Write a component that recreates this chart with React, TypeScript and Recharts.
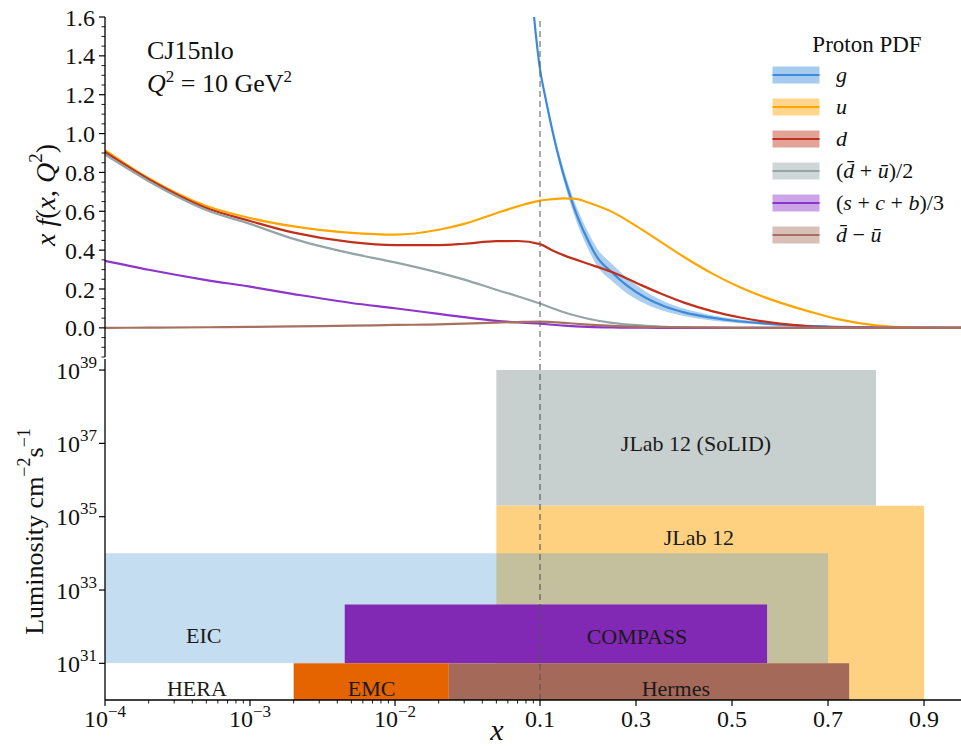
import React from 'react';
import {
  ComposedChart,
  Line,
  Area,
  XAxis,
  YAxis,
  ReferenceLine,
  ReferenceArea,
  ReferenceDot,
  Legend,
  Label,
} from 'recharts';

const SERIF = '"Liberation Serif", "DejaVu Serif", "Times New Roman", serif';
const SERIF_STYLE = { fontFamily: SERIF };

// ---------- hybrid x scale: log below 0.1, linear above ----------
const K = 480 / 145;
const T = (x: number) => (x < 0.1 ? Math.log10(x) : -1 + (x - 0.1) * K);
const X_MIN = 1e-4;
const X_MAX = 0.977;
const T_DOMAIN: [number, number] = [T(X_MIN), T(X_MAX)];

// ---------- PDF curves (top panel) ----------
const xGrid = [1e-4, 2e-4, 5e-4, 1e-3, 2e-3, 5e-3, 1e-2, 2e-2, 3e-2, 5e-2, 7e-2, 0.1, 0.125, 0.15, 0.175, 0.2, 0.25, 0.3, 0.35, 0.4, 0.46, 0.52, 0.56, 0.6, 0.66, 0.72, 0.8, 0.88, 0.977];
const uVals = [0.915, 0.77, 0.627, 0.565, 0.522, 0.489, 0.48, 0.505, 0.535, 0.59, 0.625, 0.655, 0.662, 0.666, 0.664, 0.645, 0.597, 0.525, 0.445, 0.365, 0.278, 0.205, 0.165, 0.13, 0.085, 0.045, 0.013, 0.002, 0.0];
const dVals = [0.905, 0.765, 0.617, 0.55, 0.49, 0.441, 0.426, 0.426, 0.433, 0.446, 0.447, 0.431, 0.4, 0.373, 0.351, 0.33, 0.287, 0.232, 0.178, 0.13, 0.085, 0.052, 0.035, 0.022, 0.008, 0.002, 0.0, 0.0, 0.0];
const ubarVals = [0.892, 0.755, 0.607, 0.535, 0.458, 0.383, 0.337, 0.284, 0.248, 0.196, 0.163, 0.125, 0.102, 0.08, 0.062, 0.047, 0.026, 0.014, 0.007, 0.003, 0.001, 0, 0, 0, 0, 0, 0, 0, 0];
const sVals = [0.345, 0.299, 0.246, 0.212, 0.174, 0.128, 0.101, 0.072, 0.055, 0.036, 0.028, 0.022, 0.016, 0.011, 0.008, 0.005, 0.002, 0.001, 0, 0, 0, 0, 0, 0, 0, 0, 0, 0, 0];
const dmuVals = [0.0, 0.001, 0.003, 0.005, 0.008, 0.011, 0.015, 0.018, 0.022, 0.027, 0.03, 0.032, 0.03, 0.026, 0.021, 0.017, 0.01, 0.006, 0.003, 0.002, 0.001, 0, 0, 0, 0, 0, 0, 0, 0];

const gX = [0.085, 0.091, 0.1, 0.11, 0.12, 0.13, 0.14, 0.15, 0.16, 0.17, 0.18, 0.2, 0.22, 0.25, 0.28, 0.32, 0.36, 0.4, 0.45, 0.5, 0.56, 0.62, 0.7, 0.8, 0.9, 0.977];
const gVals = [1.85, 1.6, 1.33, 1.2, 1.08, 0.97, 0.87, 0.78, 0.7, 0.625, 0.56, 0.45, 0.36, 0.285, 0.22, 0.155, 0.11, 0.08, 0.055, 0.038, 0.024, 0.014, 0.007, 0.003, 0.001, 0];
const gErr = [0.01, 0.01, 0.012, 0.015, 0.018, 0.022, 0.026, 0.03, 0.034, 0.037, 0.04, 0.043, 0.045, 0.044, 0.04, 0.032, 0.025, 0.019, 0.014, 0.01, 0.007, 0.005, 0.003, 0.002, 0.001, 0.001];

const seriesKeys = ['g', 'u', 'd', 'ubar', 's', 'dmu'];
const seriesLabels = ['g', 'u', 'd', '(d\u0304 + u\u0304)/2', '(s + c + b)/3', 'd\u0304 \u2212 u\u0304'];
const seriesColors = ['#3b8bd9', '#ffa500', '#c0301a', '#95a5a6', '#8e35cc', '#a8705f'];

const pdfRows = xGrid.map((x, i) => ({
  t: T(x),
  u: uVals[i],
  d: dVals[i],
  ubar: ubarVals[i],
  s: sVals[i],
  dmu: dmuVals[i],
}));
const gRows = gX.map((x, i) => ({
  t: T(x),
  g: gVals[i],
  band: [gVals[i] - gErr[i], gVals[i] + gErr[i]],
}));

// ---------- Luminosity regions (bottom panel) ----------
const regionNames = ['JLab 12 (SoLID)', 'JLab 12', 'EIC', 'COMPASS', 'HERA', 'EMC', 'Hermes'];
const regionXMin = [0.05, 0.05, 1e-4, 0.0045, 1e-4, 0.002, 0.0235];
const regionXMax = [0.8, 0.9, 0.7, 0.573, 0.002, 0.0235, 0.744];
const regionLumMin = [2e35, 1e30, 1e31, 1e31, 1e30, 1e30, 1e30];
const regionLumMax = [1e39, 2e35, 1e34, 4e32, 1e31, 1e31, 1e31];
const regionColors = ['#c8d0cf', '#fdd17f', '#599dd6', '#8129b5', '#ffffff', '#e56400', '#a5695a'];
const regionOpacity = [1, 1, 0.35, 1, 1, 1, 1];
const regionLabelX = [0.425, 0.431, 4.8e-4, 0.302, 4.3e-4, 6.9e-3, 0.383];
const regionLabelLum = [1e37, 2.8e34, 6e31, 5.5e31, 2.1e30, 2.1e30, 2.1e30];

// ---------- ticks ----------
const yTopMajor = [0, 0.2, 0.4, 0.6, 0.8, 1.0, 1.2, 1.4, 1.6];
const yTopAll: number[] = [];
for (let k = -3; k <= 32; k++) yTopAll.push(Math.round(k * 5) / 100);

const lumTicks = [1e31, 1e33, 1e35, 1e37, 1e39];

const xMajorVals = [1e-4, 1e-3, 1e-2, 0.1, 0.3, 0.5, 0.7, 0.9];
const xMajorLabels = ['10|\u22124', '10|\u22123', '10|\u22122', '0.1', '0.3', '0.5', '0.7', '0.9'];
const xMinorMant = [2, 3, 4, 5, 6, 7, 8, 9];
const xMinorDecades = [1e-4, 1e-3, 1e-2];

type TickDef = { t: number; label: string | null };
const xTickDefs: TickDef[] = [
  ...xMajorVals.map((v, i) => ({ t: T(v), label: xMajorLabels[i] })),
  ...xMinorDecades.flatMap((d) => xMinorMant.map((m) => ({ t: T(m * d), label: null }))),
];
const xTicks = xTickDefs.map((d) => d.t);

// ---------- tick renderers ----------
const XTick = (props: any) => {
  const { x, y, payload } = props;
  const def = xTickDefs.find((d) => Math.abs(d.t - payload.value) < 1e-9);
  const major = !!(def && def.label);
  let labelEl: React.ReactNode = null;
  if (major && def && def.label) {
    const parts = def.label.split('|');
    labelEl = (
      <text x={x} y={y + 27} textAnchor="middle" style={SERIF_STYLE} fontSize={24} fill="#111">
        {parts[0]}
        {parts[1] && (
          <tspan dy={-10} fontSize={17}>
            {parts[1]}
          </tspan>
        )}
      </text>
    );
  }
  return (
    <g>
      <line x1={x} x2={x} y1={y} y2={y + (major ? 6 : 3.5)} stroke="#000" strokeWidth={major ? 1.2 : 0.9} />
      {labelEl}
    </g>
  );
};

const YTickTop = (props: any) => {
  const { x, y, payload } = props;
  const v = payload.value as number;
  const major = yTopMajor.some((m) => Math.abs(m - v) < 1e-9);
  return (
    <g>
      <line x1={x - (major ? 6 : 3.5)} x2={x} y1={y} y2={y} stroke="#000" strokeWidth={major ? 1.2 : 0.9} />
      {major && (
        <text x={x - 10} y={y} dy="0.36em" textAnchor="end" style={SERIF_STYLE} fontSize={24} fill="#111">
          {v.toFixed(1)}
        </text>
      )}
    </g>
  );
};

const YTickLog = (props: any) => {
  const { x, y, payload } = props;
  const e = Math.round(Math.log10(payload.value));
  return (
    <g>
      <line x1={x - 6} x2={x} y1={y} y2={y} stroke="#000" strokeWidth={1.2} />
      <text x={x - 8} y={y} dy="0.36em" textAnchor="end" style={SERIF_STYLE} fontSize={24} fill="#111">
        10
        <tspan dy={-11} fontSize={17}>
          {e}
        </tspan>
      </text>
    </g>
  );
};

// ---------- labels ----------
const TopYLabel = (props: any) => {
  const vb = props.viewBox || { x: 0, y: 17, width: 105, height: 340 };
  const cx = vb.x + 45;
  const cy = vb.y + vb.height / 2 + 8;
  return (
    <text
      x={cx}
      y={cy}
      transform={`rotate(-90, ${cx}, ${cy})`}
      textAnchor="middle"
      dominantBaseline="central"
      style={SERIF_STYLE}
      fontSize={28}
      fill="#111"
    >
      <tspan fontStyle="italic">x f</tspan>(<tspan fontStyle="italic">x</tspan>, <tspan fontStyle="italic">Q</tspan>
      <tspan dy={-10} fontSize={19}>2</tspan>
      <tspan dy={10}>)</tspan>
    </text>
  );
};

const BottomYLabel = (props: any) => {
  const vb = props.viewBox || { x: 0, y: 19, width: 105, height: 341 };
  const cx = vb.x + 34;
  const cy = vb.y + vb.height / 2 + 2;
  return (
    <text
      x={cx}
      y={cy}
      transform={`rotate(-90, ${cx}, ${cy})`}
      textAnchor="middle"
      dominantBaseline="central"
      style={SERIF_STYLE}
      fontSize={26}
      fill="#111"
    >
      Luminosity cm
      <tspan dy={-10} fontSize={18}>{'\u22122'}</tspan>
      <tspan dy={10}>s</tspan>
      <tspan dy={-10} fontSize={18}>{'\u22121'}</tspan>
    </text>
  );
};

const XAxisLabel = (props: any) => {
  const vb = props.viewBox || { x: 105, y: 360, width: 856, height: 46 };
  return (
    <text x={vb.x + 392} y={vb.y + 40} textAnchor="middle" style={SERIF_STYLE} fontSize={30} fontStyle="italic" fill="#111">
      x
    </text>
  );
};

const RegionLabel = (props: any) => {
  const vb = props.viewBox || {};
  const cx = vb.cx !== undefined ? vb.cx : (vb.x || 0) + (vb.width || 0) / 2;
  const cy = vb.cy !== undefined ? vb.cy : (vb.y || 0) + (vb.height || 0) / 2;
  return (
    <text x={cx} y={cy} dy="0.35em" textAnchor="middle" style={SERIF_STYLE} fontSize={22} fill="#1a1a1a">
      {props.text}
    </text>
  );
};

const MathLabel = ({ s }: { s: string }) => {
  const parts = s.split(/([a-z]\u0304?)/);
  return (
    <span>
      {parts.map((p, i) =>
        /^[a-z]/.test(p) ? (
          <i key={i}>{p}</i>
        ) : (
          <span key={i}>{p}</span>
        ),
      )}
    </span>
  );
};

const PdfLegend = () => (
  <div style={{ fontFamily: SERIF, color: '#111', width: 190 }}>
    <div style={{ fontSize: 23, height: 28, lineHeight: '28px', textAlign: 'center' }}>Proton PDF</div>
    {seriesKeys.map((k, i) => (
      <div key={k} style={{ display: 'flex', alignItems: 'center', height: 32 }}>
        <svg width={48} height={18} style={{ display: 'block' }}>
          <rect x={0.5} y={0.5} width={47} height={17} fill={seriesColors[i]} fillOpacity={0.45} />
          <line x1={0.5} x2={47.5} y1={9} y2={9} stroke={seriesColors[i]} strokeWidth={2.2} />
        </svg>
        <span style={{ marginLeft: 16, fontSize: 22, whiteSpace: 'nowrap' }}>
          <MathLabel s={seriesLabels[i]} />
        </span>
      </div>
    ))}
  </div>
);

const AXIS_LINE = { stroke: '#000', strokeWidth: 1.3 };

export default function App() {
  return (
    <div style={{ position: 'absolute', left: 0, top: 0, width: 961, height: 746, background: '#fff', overflow: 'hidden' }}>
      {/* Top panel */}
      <div style={{ position: 'absolute', left: 0, top: 0 }}>
        <ComposedChart width={961} height={360} data={pdfRows} margin={{ top: 17, right: 0, bottom: 3, left: 0 }}>
          <XAxis
            type="number"
            dataKey="t"
            domain={T_DOMAIN}
            allowDataOverflow
            height={0}
            tick={false}
            tickLine={false}
            axisLine={AXIS_LINE}
          />
          <XAxis
            xAxisId="top"
            orientation="top"
            type="number"
            dataKey="t"
            domain={T_DOMAIN}
            allowDataOverflow
            height={0}
            tick={false}
            tickLine={false}
            axisLine={AXIS_LINE}
          />
          <YAxis
            type="number"
            domain={[-0.15, 1.6]}
            allowDataOverflow
            ticks={yTopAll}
            interval={0}
            width={105}
            tick={<YTickTop />}
            tickLine={false}
            tickSize={0}
            tickMargin={0}
            axisLine={AXIS_LINE}
          >
            <Label content={<TopYLabel />} />
          </YAxis>
          <Legend
            layout="vertical"
            align="center"
            verticalAlign="middle"
            content={<PdfLegend />}
            wrapperStyle={{ left: 772, top: 31, width: 190, height: 'auto', bottom: 'auto', right: 'auto' }}
          />
          <Area
            data={gRows}
            dataKey="band"
            type="monotone"
            fill={seriesColors[0]}
            fillOpacity={0.42}
            stroke="none"
            isAnimationActive={false}
            dot={false}
            activeDot={false}
          />
          <Line data={gRows} dataKey="g" type="monotone" stroke={seriesColors[0]} strokeWidth={2.2} dot={false} activeDot={false} isAnimationActive={false} />
          {seriesKeys.slice(1).map((k, i) => (
            <Line
              key={k}
              dataKey={k}
              type="monotone"
              stroke={seriesColors[i + 1]}
              strokeWidth={2.2}
              dot={false}
              activeDot={false}
              isAnimationActive={false}
            />
          ))}
          <ReferenceLine x={T(0.1)} stroke="#666" strokeWidth={1.1} strokeDasharray="6 4" />
        </ComposedChart>
      </div>

      {/* Bottom panel */}
      <div style={{ position: 'absolute', left: 0, top: 340 }}>
        <ComposedChart width={961} height={406} data={pdfRows} margin={{ top: 19, right: 0, bottom: 0, left: 0 }}>
          <XAxis
            type="number"
            dataKey="t"
            domain={T_DOMAIN}
            allowDataOverflow
            ticks={xTicks}
            interval={0}
            height={46}
            tick={<XTick />}
            tickLine={false}
            tickSize={0}
            tickMargin={0}
            axisLine={AXIS_LINE}
          >
            <Label content={<XAxisLabel />} />
          </XAxis>
          <XAxis
            xAxisId="top"
            orientation="top"
            type="number"
            dataKey="t"
            domain={T_DOMAIN}
            allowDataOverflow
            height={0}
            tick={false}
            tickLine={false}
            axisLine={AXIS_LINE}
          />
          <YAxis
            type="number"
            scale="log"
            domain={[1e30, 2e39]}
            allowDataOverflow
            ticks={lumTicks}
            interval={0}
            width={105}
            tick={<YTickLog />}
            tickLine={false}
            tickSize={0}
            tickMargin={0}
            axisLine={AXIS_LINE}
          >
            <Label content={<BottomYLabel />} />
          </YAxis>
          {regionNames.map((n, i) => (
            <ReferenceArea
              key={n}
              x1={T(regionXMin[i])}
              x2={T(regionXMax[i])}
              y1={regionLumMin[i]}
              y2={regionLumMax[i]}
              fill={regionColors[i]}
              fillOpacity={regionOpacity[i]}
              stroke="none"
              ifOverflow="hidden"
            />
          ))}
          {regionNames.map((n, i) => (
            <ReferenceDot
              key={'lbl' + n}
              x={T(regionLabelX[i])}
              y={regionLabelLum[i]}
              r={0}
              fill="none"
              stroke="none"
              ifOverflow="visible"
              label={<RegionLabel text={n} />}
            />
          ))}
          <ReferenceLine x={T(0.1)} stroke="#555" strokeWidth={1.1} strokeDasharray="6 4" />
        </ComposedChart>
      </div>

      {/* Annotation */}
      <div
        style={{
          position: 'absolute',
          left: 147,
          top: 34,
          fontFamily: SERIF,
          fontSize: 26,
          lineHeight: '33px',
          color: '#111',
          whiteSpace: 'nowrap',
        }}
      >
        <div>CJ15nlo</div>
        <div>
          <i>Q</i>
          <sup style={{ fontSize: 17, lineHeight: 0 }}>2</sup> = 10 GeV<sup style={{ fontSize: 17, lineHeight: 0 }}>2</sup>
        </div>
      </div>
    </div>
  );
}
